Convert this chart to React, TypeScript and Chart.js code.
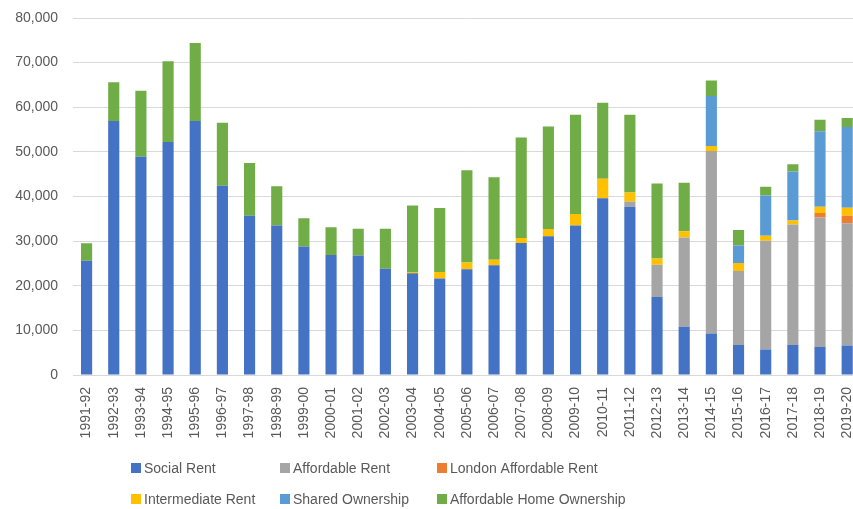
import React, { useEffect, useRef } from "react";
import { Chart, registerables } from "chart.js";

Chart.register(...registerables);

const categories = [
  "1991-92", "1992-93", "1993-94", "1994-95", "1995-96", "1996-97", "1997-98", "1998-99",
  "1999-00", "2000-01", "2001-02", "2002-03", "2003-04", "2004-05", "2005-06", "2006-07",
  "2007-08", "2008-09", "2009-10", "2010-11", "2011-12", "2012-13", "2013-14", "2014-15",
  "2015-16", "2016-17", "2017-18", "2018-19", "2019-20",
];

const socialRent = [
  25600, 56900, 48900, 52200, 56900, 42400, 35700, 33500, 28800, 26900, 26800, 23800, 22800, 21600,
  23700, 24600, 29600, 31100, 33500, 39600, 37700, 17500, 10800, 9300, 6700, 5700, 6700, 6300, 6600,
];
const affordableRent = [
  0, 0, 0, 0, 0, 0, 0, 0, 0, 0, 0, 0, 0, 0, 0, 0, 0, 0, 0, 0,
  1200, 7200, 20000, 40900, 16600, 24400, 27000, 29000, 27400,
];
const londonAffordableRent = [
  0, 0, 0, 0, 0, 0, 0, 0, 0, 0, 0, 0, 0, 0, 0, 0, 0, 0, 0, 0,
  0, 0, 0, 0, 0, 0, 0, 1000, 1700,
];
const intermediateRent = [
  0, 0, 0, 0, 0, 0, 0, 0, 0, 0, 0, 0, 300, 1500, 1500, 1200, 1100, 1600, 2600, 4400,
  2000, 1400, 1400, 1100, 1800, 1100, 900, 1400, 1800,
];
const sharedOwnership = [
  0, 0, 0, 0, 0, 0, 0, 0, 0, 0, 0, 0, 0, 0, 0, 0, 0, 0, 0, 0,
  0, 0, 0, 11200, 3900, 9000, 11000, 16900, 18100,
];
const affordableHomeOwnership = [
  3900, 8700, 14800, 18100, 17500, 14100, 11800, 8800, 6300, 6200, 6000, 9000, 14900, 14300,
  20700, 18500, 22500, 23000, 22200, 17000, 17400, 16800, 10900, 3500, 3500, 2000, 1600, 2600, 2000,
];

const seriesNames = [
  "Social Rent", "Affordable Rent", "London Affordable Rent",
  "Intermediate Rent", "Shared Ownership", "Affordable Home Ownership",
];
const seriesColors = ["#4472C4", "#A5A5A5", "#ED7D31", "#FFC000", "#5B9BD5", "#70AD47"];
const seriesValues = [
  socialRent, affordableRent, londonAffordableRent,
  intermediateRent, sharedOwnership, affordableHomeOwnership,
];

const yMax = 80000;
const yStep = 10000;

const FONT = "'Liberation Sans', Arial, sans-serif";
const TEXT = "#595959";

const gridLegend = {
  id: "gridLegend",
  afterDraw(chart: any) {
    const ctx = chart.ctx;
    const colX = [131, 280, 437];
    const rowY = [468, 499];
    ctx.save();
    ctx.font = `14px ${FONT}`;
    ctx.textBaseline = "middle";
    ctx.textAlign = "left";
    chart.data.datasets.forEach((ds: any, i: number) => {
      const x = colX[i % 3];
      const y = rowY[Math.floor(i / 3)];
      ctx.fillStyle = ds.backgroundColor;
      ctx.fillRect(x, y - 5, 10, 10);
      ctx.fillStyle = TEXT;
      ctx.fillText(ds.label, x + 13, y + 1);
    });
    ctx.restore();
  },
};

export default function App() {
  const ref = useRef<HTMLCanvasElement>(null);
  useEffect(() => {
    if (!ref.current) return;
    const chart = new Chart(ref.current, {
      type: "bar",
      data: {
        labels: categories,
        datasets: seriesNames.map((name, i) => ({
          label: name,
          data: seriesValues[i],
          backgroundColor: seriesColors[i],
          borderWidth: 0,
          categoryPercentage: 1,
          barPercentage: 0.41,
        })),
      },
      options: {
        animation: false,
        responsive: false,
        devicePixelRatio: 1,
        layout: { padding: { top: 18, right: 1, bottom: 60, left: 0 } },
        plugins: {
          legend: { display: false },
          tooltip: { enabled: false },
        },
        scales: {
          x: {
            stacked: true,
            grid: { display: false, drawTicks: false },
            border: { color: "#D9D9D9", width: 1 },
            ticks: {
              color: TEXT,
              font: { family: FONT, size: 14 },
              minRotation: 90,
              maxRotation: 90,
              padding: 12,
              autoSkip: false,
            },
            afterFit(scale: any) {
              scale.height = 74;
            },
          },
          y: {
            stacked: true,
            min: 0,
            max: yMax,
            grid: { color: "#D9D9D9", lineWidth: 1, drawTicks: false },
            border: { display: false },
            ticks: {
              stepSize: yStep,
              color: TEXT,
              font: { family: FONT, size: 14 },
              padding: 15,
              callback: (v: any) => Number(v).toLocaleString("en-US"),
            },
            afterFit(scale: any) {
              scale.width = 73;
              scale.paddingTop = 0;
              scale.paddingBottom = 0;
            },
          },
        },
      },
      plugins: [gridLegend],
    });
    return () => chart.destroy();
  }, []);

  return (
    <div
      style={{
        position: "fixed",
        left: 0,
        top: 0,
        width: 853,
        height: 509,
        overflow: "hidden",
        background: "#fff",
      }}
    >
      <canvas ref={ref} width={876} height={509} style={{ display: "block" }} />
    </div>
  );
}
